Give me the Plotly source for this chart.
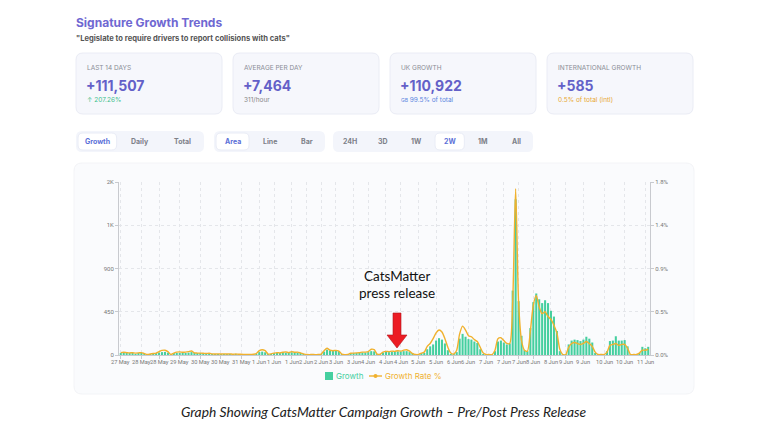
import plotly.graph_objects as go

# ---------------- data ----------------
growth = [
    15, 18, 15, 12, 14, 10, 12, 15, 10, 4,
    8, 12, 15, 25, 30, 32, 25, 5, 15, 20,
    22, 18, 20, 25, 30, 15, 12, 14, 12, 10,
    12, 8, 6, 8, 7, 9, 6, 8, 5, 6,
    5, 6, 4, 5, 4, 6, 10, 30, 35, 28,
    6, 8, 15, 20, 18, 22, 25, 20, 28, 22,
    25, 18, 10, 4, 3, 4, 3, 5, 8, 35,
    55, 48, 45, 50, 42, 10, 4, 5, 15, 18,
    20, 22, 25, 25, 30, 40, 38, 8, 6, 25,
    32, 30, 35, 32, 38, 35, 40, 40, 30, 15,
    5, 5, 15, 20, 60, 90, 110, 150, 175, 160,
    120, 50, 10, 5, 30, 170, 220, 190, 165, 160,
    140, 125, 60, 10, 3, 3, 3, 40, 140, 150,
    130, 110, 120, 670, 1620, 560, 200, 50, 40, 280,
    550, 640, 580, 540, 570, 540, 460, 400, 250, 40,
    5, 5, 110, 150, 160, 155, 145, 160, 190, 170,
    130, 20, 3, 3, 3, 40, 145, 150, 195, 150,
    150, 155, 90, 3, 3, 3, 20, 85, 70, 85,
]
growth_rate = [
    0.025, 0.028, 0.025, 0.022, 0.024, 0.02, 0.022, 0.025, 0.015, 0.005,
    0.01, 0.015, 0.02, 0.035, 0.048, 0.05, 0.035, 0.005, 0.02, 0.03,
    0.032, 0.028, 0.03, 0.035, 0.042, 0.022, 0.02, 0.02, 0.018, 0.015,
    0.018, 0.012, 0.01, 0.012, 0.01, 0.012, 0.01, 0.012, 0.008, 0.01,
    0.008, 0.008, 0.006, 0.006, 0.005, 0.008, 0.015, 0.045, 0.055, 0.045,
    0.01, 0.012, 0.02, 0.025, 0.022, 0.028, 0.032, 0.025, 0.035, 0.028,
    0.03, 0.022, 0.012, 0.005, 0.004, 0.005, 0.004, 0.006, 0.01, 0.045,
    0.07, 0.05, 0.045, 0.048, 0.04, 0.01, 0.004, 0.005, 0.018, 0.02,
    0.022, 0.025, 0.03, 0.03, 0.035, 0.06, 0.055, 0.01, 0.008, 0.03,
    0.038, 0.035, 0.04, 0.038, 0.045, 0.04, 0.05, 0.055, 0.04, 0.015,
    0.005, 0.005, 0.02, 0.03, 0.09, 0.12, 0.17, 0.23, 0.26, 0.24,
    0.17, 0.08, 0.02, 0.01, 0.05, 0.22, 0.30, 0.26, 0.20, 0.19,
    0.16, 0.14, 0.08, 0.02, 0.005, 0.005, 0.005, 0.05, 0.17, 0.18,
    0.15, 0.12, 0.12, 0.55, 1.73, 0.55, 0.15, 0.05, 0.04, 0.25,
    0.52, 0.62, 0.50, 0.43, 0.45, 0.40, 0.37, 0.31, 0.23, 0.06,
    0.005, 0.005, 0.08, 0.12, 0.13, 0.12, 0.11, 0.12, 0.14, 0.12,
    0.09, 0.03, 0.005, 0.005, 0.005, 0.03, 0.10, 0.11, 0.12, 0.10,
    0.11, 0.11, 0.07, 0.005, 0.005, 0.005, 0.02, 0.05, 0.05, 0.06,
]
x_index = list(range(len(growth)))

tick_labels = ["27 May", "28 May", "28 May", "29 May", "30 May", "30 May", "31 May",
               "1 Jun", "1 Jun", "1 Jun", "2 Jun", "2 Jun", "3 Jun", "3 Jun",
               "4 Jun", "4 Jun", "4 Jun", "5 Jun", "5 Jun", "6 Jun", "6 Jun",
               "7 Jun", "7 Jun", "7 Jun", "8 Jun", "8 Jun", "9 Jun", "9 Jun",
               "10 Jun", "10 Jun", "11 Jun"]
tick_index = [0, 7, 13, 20, 27, 34, 41, 47, 52, 58, 63, 68, 73, 79, 84, 90, 95,
              101, 107, 113, 118, 124, 130, 135, 140, 146, 151, 157, 164, 171, 178]

y_ticks = [0, 450, 900, 1350, 1800]
y_tick_labels = ["0", "450", "900", "1K", "2K"]
y2_ticks = [0, 0.45, 0.9, 1.35, 1.8]
y2_tick_labels = ["0.0%", "0.5%", "0.9%", "1.4%", "1.8%"]

series_names = ["Growth", "Growth Rate %"]

cards = [
    ("LAST 14 DAYS", "+111,507", "↑ 207.26%", "#3dbf8c"),
    ("AVERAGE PER DAY", "+7,464", "311/hour", "#888888"),
    ("UK GROWTH", "+110,922", "<span style='font-size:5px'>GB</span> 99.5% of total", "#5b86e0"),
    ("INTERNATIONAL GROWTH", "+585", "0.5% of total (intl)", "#e8a735"),
]
toggle_groups = [
    (["Growth", "Daily", "Total"], 0),
    (["Area", "Line", "Bar"], 0),
    (["24H", "3D", "1W", "2W", "1M", "All"], 3),
]

# ---------------- layout helpers (pixel -> paper) ----------------
W, H = 768, 432
L, R, T, B = 119, 650, 182, 355


def px(x):
    return (x - L) / (R - L)


def py(y):
    return (B - y) / (B - T)


def rrect(x0, y0, x1, y1, r):
    return (f"M {px(x0 + r)},{py(y0)} L {px(x1 - r)},{py(y0)} "
            f"Q {px(x1)},{py(y0)} {px(x1)},{py(y0 + r)} L {px(x1)},{py(y1 - r)} "
            f"Q {px(x1)},{py(y1)} {px(x1 - r)},{py(y1)} L {px(x0 + r)},{py(y1)} "
            f"Q {px(x0)},{py(y1)} {px(x0)},{py(y1 - r)} L {px(x0)},{py(y0 + r)} "
            f"Q {px(x0)},{py(y0)} {px(x0 + r)},{py(y0)} Z")


shapes = []
annotations = []


def text(x, y, s, size, color, anchor="left", weight="normal", family="Inter", style="normal"):
    shift = -2 if anchor == "left" else 0
    annotations.append(dict(
        x=px(x + shift), y=py(y), xref="paper", yref="paper", text=s, showarrow=False,
        xanchor=anchor, yanchor="middle",
        font=dict(size=size, color=color, family=family, weight=weight, style=style)))


# chart card background
shapes.append(dict(type="path", path=rrect(74, 163, 694, 394, 8), xref="paper", yref="paper",
                   fillcolor="#fafbfd", line=dict(color="#f3f4f7", width=1), layer="below"))

# title
text(76, 22, "Signature Growth Trends", 12, "#6f68d2", weight="bold")
text(76, 38, "\"Legislate to require drivers to report collisions with cats\"", 7.6, "#555555", weight="bold")

# stat cards
card_x = [76, 233, 390, 547]
card_w = 146
for (label, value, sub, subcol), cx in zip(cards, card_x):
    shapes.append(dict(type="path", path=rrect(cx, 53, cx + card_w, 114, 7), xref="paper", yref="paper",
                       fillcolor="#f6f7fc", line=dict(color="#eaecf5", width=1), layer="below"))
    text(cx + 11, 68, label, 6.5, "#8a8d96")
    text(cx + 10, 85, value, 14, "#6360c8", weight="bold")
    text(cx + 11, 100, sub, 6.5, subcol)

# toggle groups
group_x = [(76, 204), (214, 325), (333, 533)]
for (items, active), (gx0, gx1) in zip(toggle_groups, group_x):
    shapes.append(dict(type="path", path=rrect(gx0, 131, gx1, 152, 6), xref="paper", yref="paper",
                       fillcolor="#f3f5fb", line=dict(width=0), layer="below"))
    n = len(items)
    step = (gx1 - gx0) / n
    for k, item in enumerate(items):
        cxm = gx0 + step * (k + 0.5)
        if k == active:
            shapes.append(dict(type="path", path=rrect(cxm - step / 2 + 2, 133, cxm + step / 2 - 2, 150, 5),
                               xref="paper", yref="paper", fillcolor="#ffffff",
                               line=dict(color="#e9ecf6", width=1), layer="below"))
            text(cxm, 142, item, 7, "#5b6fd8", anchor="center", weight="bold")
        else:
            text(cxm, 142, item, 7, "#7d8088", anchor="center", weight="bold")

# press release note + red arrow
text(397, 276, "CatsMatter", 13.5, "#111111", anchor="center", family="Lato")
text(397, 293, "press release", 13.5, "#111111", anchor="center", family="Lato")
arrow = [(393, 313), (401, 313), (401, 335), (407, 335), (397, 348), (387, 335), (393, 335)]
arrow_path = "M " + " L ".join(f"{px(a)},{py(b)}" for a, b in arrow) + " Z"
shapes.append(dict(type="path", path=arrow_path, xref="paper", yref="paper",
                   fillcolor="#ec1c24", line=dict(color="#b3151b", width=0.6), layer="above"))

# caption
text(384, 411, "Graph Showing CatsMatter Campaign Growth – Pre/Post Press Release", 13.8, "#222222",
     anchor="center", family="Lato", style="italic")

# x tick labels (Chart.js style, tightly packed)
for ti, tl in zip(tick_index, tick_labels):
    annotations.append(dict(x=ti, y=py(362), xref="x", yref="paper", text=tl, showarrow=False,
                            xanchor="center", yanchor="middle",
                            font=dict(size=5.7, color="#777777", family="Roboto")))

# ---------------- traces ----------------
teal = "#45cf9f"
orange = "#f0b12e"

# custom legend (Chart.js style)
shapes.append(dict(type="rect", x0=px(325), x1=px(333), y0=py(380), y1=py(372), xref="paper", yref="paper",
                   fillcolor=teal, line=dict(width=0)))
text(336, 376, series_names[0], 8, teal)
shapes.append(dict(type="line", x0=px(369), x1=px(382), y0=py(376), y1=py(376), xref="paper", yref="paper",
                   line=dict(color=orange, width=1.4)))
shapes.append(dict(type="circle", x0=px(373.5), x1=px(377.5), y0=py(378), y1=py(374), xref="paper",
                   yref="paper", fillcolor=orange, line=dict(width=0)))
text(385, 376, series_names[1], 8, orange)

fig = go.Figure()
fig.add_trace(go.Bar(x=x_index, y=growth, marker=dict(color=teal, line=dict(width=0)),
                     name=series_names[0], yaxis="y"))
fig.add_trace(go.Scatter(x=x_index, y=growth_rate, mode="lines", yaxis="y2",
                         line=dict(color=orange, width=1.4, shape="spline", smoothing=0.7),
                         name=series_names[1]))

grid = "#e4e6ea"
fig.update_layout(
    width=W, height=H,
    margin=dict(l=L, r=W - R, t=T, b=H - B),
    paper_bgcolor="#ffffff", plot_bgcolor="rgba(0,0,0,0)",
    bargap=0.3,
    showlegend=False,
    xaxis=dict(range=[-0.6, len(growth) - 0.4], tickmode="array", tickvals=tick_index,
               showticklabels=False,
               showgrid=True, gridcolor=grid, griddash="dot", gridwidth=1,
               showline=True, linecolor="#c8cacf", ticks="outside", ticklen=3, tickcolor="#c8cacf",
               zeroline=False),
    yaxis=dict(range=[0, 1800], tickmode="array", tickvals=y_ticks, ticktext=y_tick_labels,
               tickfont=dict(size=6, color="#777777", family="Roboto"),
               showgrid=True, gridcolor=grid, griddash="dot", gridwidth=1,
               showline=True, linecolor="#c8cacf", ticks="outside", ticklen=3, tickcolor="#c8cacf",
               zeroline=False),
    yaxis2=dict(range=[0, 1.8], overlaying="y", side="right", tickmode="array", tickvals=y2_ticks,
                ticktext=y2_tick_labels, tickfont=dict(size=6, color="#777777", family="Roboto"),
                showgrid=False, showline=True, linecolor="#c8cacf", ticks="outside", ticklen=3,
                tickcolor="#c8cacf", zeroline=False),
    shapes=shapes,
    annotations=annotations,
)

fig.write_html("out.html")
